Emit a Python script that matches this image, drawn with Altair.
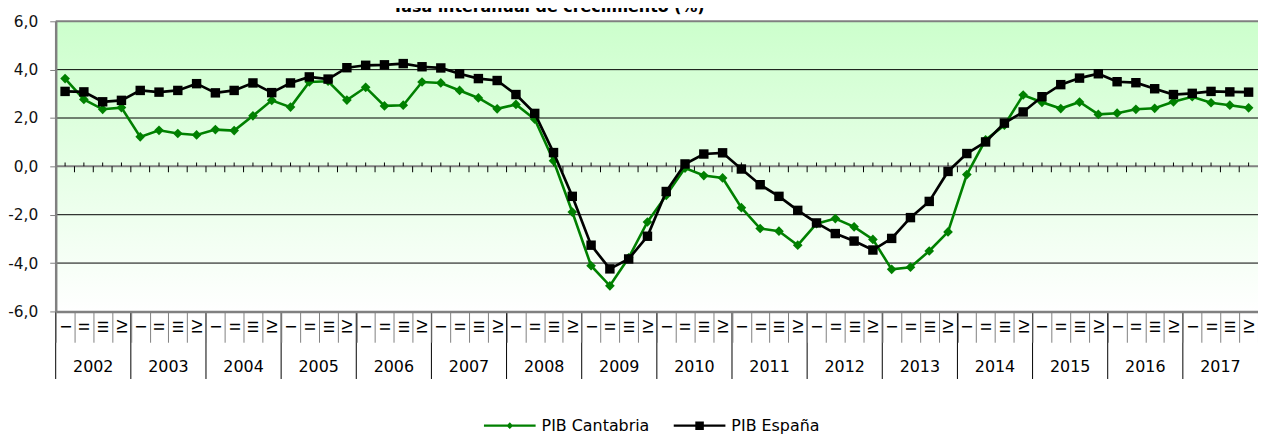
import altair as alt
import pandas as pd

# ---------------- data ----------------
years = [str(y) for y in range(2002, 2018)]
quarters = ["I", "II", "III", "IV"]

cantabria = [
    3.63, 2.77, 2.36, 2.43,
    1.22, 1.49, 1.36, 1.30,
    1.52, 1.48, 2.09, 2.73,
    2.45, 3.49, 3.52, 2.74,
    3.27, 2.50, 2.53, 3.49,
    3.45, 3.14, 2.83, 2.38,
    2.56, 1.95, 0.23, -1.89,
    -4.11, -4.94, -3.78, -2.30,
    -1.20, -0.07, -0.38, -0.48,
    -1.71, -2.57, -2.68, -3.26,
    -2.37, -2.16, -2.50, -3.02,
    -4.26, -4.17, -3.50, -2.71,
    -0.34, 1.10, 1.70, 2.95,
    2.65, 2.39, 2.66, 2.15,
    2.20, 2.36, 2.40, 2.67,
    2.88, 2.63, 2.53, 2.42,
]
espana = [
    3.10, 3.08, 2.67, 2.73,
    3.14, 3.07, 3.14, 3.42,
    3.04, 3.14, 3.45, 3.05,
    3.45, 3.70, 3.61, 4.08,
    4.18, 4.20, 4.25, 4.12,
    4.07, 3.83, 3.63, 3.55,
    2.97, 2.19, 0.57, -1.24,
    -3.26, -4.24, -3.83, -2.89,
    -1.04, 0.10, 0.51, 0.56,
    -0.11, -0.76, -1.24, -1.82,
    -2.34, -2.78, -3.09, -3.46,
    -2.98, -2.12, -1.45, -0.21,
    0.53, 1.01, 1.79, 2.25,
    2.88, 3.38, 3.65, 3.83,
    3.50, 3.46, 3.21, 2.97,
    3.02, 3.10, 3.08, 3.07,
]
series_names = ["PIB Cantabria", "PIB España"]
series_colors = ["#008000", "#000000"]
y_ticks = [-6, -4, -2, 0, 2, 4, 6]
grid_values = [-4, -2, 2, 4]
border_values = [6, 0]
title_text = "Tasa interanual de crecimiento  (%)"

keys = [f"{y}-{q}" for y in years for q in quarters]
n = len(keys)
df = pd.DataFrame({
    "q": keys * 2,
    "v": cantabria + espana,
    "serie": [series_names[0]] * n + [series_names[1]] * n,
})
years_df = pd.DataFrame({"year": years})

FONT = "DejaVu Sans"

# ---------------- scales / axes ----------------
xq_scale = alt.Scale(type="band", domain=keys, paddingInner=0, paddingOuter=0)
y_scale = alt.Scale(domain=[-6, 6], nice=False)

q_axis = alt.Axis(
    orient="bottom", title=None,
    labelExpr="isString(datum.value) ? substring(datum.value, 5) : ''",
    labelAngle=270, labelAlign="center", labelBaseline="middle",
    labelPadding=-16, labelFontSize=15, labelFont=FONT, labelColor="black",
    labelOverlap=False, labelBound=False,
    tickBand="extent", tickSize=31, tickColor="#808080", tickWidth=1,
    domainColor="#808080", domainWidth=2.5, grid=False, zindex=1,
)
y_axis = alt.Axis(
    orient="left", values=y_ticks, title=None, grid=False,
    labelExpr="replace(replace(format(datum.value, '.1f'), '.', ','), '\u2212', '-')",
    labelFontSize=15.5, labelFont=FONT, labelColor="#111111", labelPadding=12,
    tickSize=6, tickColor="#808080", tickWidth=1,
    domainColor="#808080", domainWidth=2.5, zindex=1,
)


def qx(field="q", band_pos=None):
    if band_pos is None:
        return alt.X(f"{field}:N", scale=xq_scale, axis=q_axis)
    return alt.X(f"{field}:N", scale=xq_scale, axis=q_axis, bandPosition=band_pos)


def vy(field="v"):
    return alt.Y(f"{field}:Q", scale=y_scale, axis=y_axis)


# ---------------- layers ----------------
bg = alt.Chart(pd.DataFrame({"a": [0]})).mark_rect(
    fill={"gradient": "linear", "x1": 0, "x2": 0, "y1": 0, "y2": 1,
          "stops": [{"offset": 0, "color": "#ccffcc"},
                    {"offset": 1, "color": "#ffffff"}]}
).encode(x=alt.value(0), x2=alt.value("width"), y=alt.value(0), y2=alt.value("height"))

grid = alt.Chart(pd.DataFrame({"v": grid_values})).mark_rule(
    color="black", strokeWidth=1
).encode(y=vy())

borders = alt.Chart(pd.DataFrame({"v": border_values})).mark_rule(
    color="#808080", strokeWidth=2
).encode(y=vy())

base = alt.Chart(df)
c_data = base.transform_filter(alt.datum.serie == series_names[0])
e_data = base.transform_filter(alt.datum.serie == series_names[1])

zero = c_data.transform_calculate(z="0")
ticks_c = zero.mark_tick(orient="vertical", size=4, thickness=1, yOffset=-2,
                         color="black", opacity=1).encode(x=qx(), y=vy("z"))
ticks_b = zero.mark_tick(orient="vertical", size=6, thickness=1, yOffset=3,
                         color="black", opacity=1).encode(x=qx(band_pos=0), y=vy("z"))

line_c = c_data.mark_line(color=series_colors[0], strokeWidth=2.6).encode(x=qx(), y=vy())
pts_c = c_data.mark_point(shape="diamond", filled=True, size=95, opacity=1,
                          color=series_colors[0]).encode(x=qx(), y=vy())
line_e = e_data.mark_line(color=series_colors[1], strokeWidth=2.7).encode(x=qx(), y=vy())
pts_e = e_data.mark_point(shape="square", filled=True, size=90, opacity=1,
                          color=series_colors[1]).encode(x=qx(), y=vy())

line_path = "M-1,-0.045H1V0.045H-1Z"
path_c = line_path + " M0,-0.13L0.13,0L0,0.13L-0.13,0Z"
path_e = line_path + " M-0.165,-0.165H0.165V0.165H-0.165Z"

leg = alt.Legend(title=None, orient="none", legendX=431, legendY=381,
                 direction="horizontal", symbolSize=2704,
                 symbolStrokeWidth=0, symbolOpacity=1,
                 labelFontSize=16, labelFont=FONT, labelColor="black",
                 labelOffset=6, columnPadding=24, padding=0)

legend_layer = base.transform_filter("false").mark_point(filled=True, opacity=1).encode(
    x=qx(), y=vy(),
    color=alt.Color("serie:N", scale=alt.Scale(domain=series_names, range=series_colors),
                    legend=leg),
    shape=alt.Shape("serie:N", scale=alt.Scale(domain=series_names, range=[path_c, path_e]),
                    legend=leg),
)

# second level of the category axis: year separators and year labels
year_sep = alt.Chart(years_df).transform_calculate(k="datum.year + '-I'").mark_rule(
    color="black", strokeWidth=1
).encode(x=qx("k", band_pos=0), y=alt.value(292), y2=alt.value(360))

year_lab = alt.Chart(years_df).transform_calculate(k="datum.year + '-III'").mark_text(
    font=FONT, fontSize=16, color="black", align="center", baseline="middle"
).encode(x=qx("k", band_pos=0), y=alt.value(348), text="year:N")

title_layer = alt.Chart(pd.DataFrame({"t": [title_text]})).mark_text(
    font=FONT, fontSize=16, fontWeight="bold", color="black",
    align="center", baseline="alphabetic"
).encode(text="t:N", x=alt.value(496), y=alt.value(-9))

chart = alt.layer(
    bg, grid, borders, ticks_c, ticks_b,
    line_c, pts_c, line_e, pts_e, legend_layer,
    year_sep, year_lab, title_layer,
).properties(
    width=1210, height=292,
    autosize=alt.AutoSizeParams(type="none"),
    padding={"left": 48, "top": 12, "right": 0, "bottom": 125},
).configure(font=FONT).configure_view(strokeWidth=0)

chart.save("out.html", embed_options={"renderer": "svg", "actions": False})
